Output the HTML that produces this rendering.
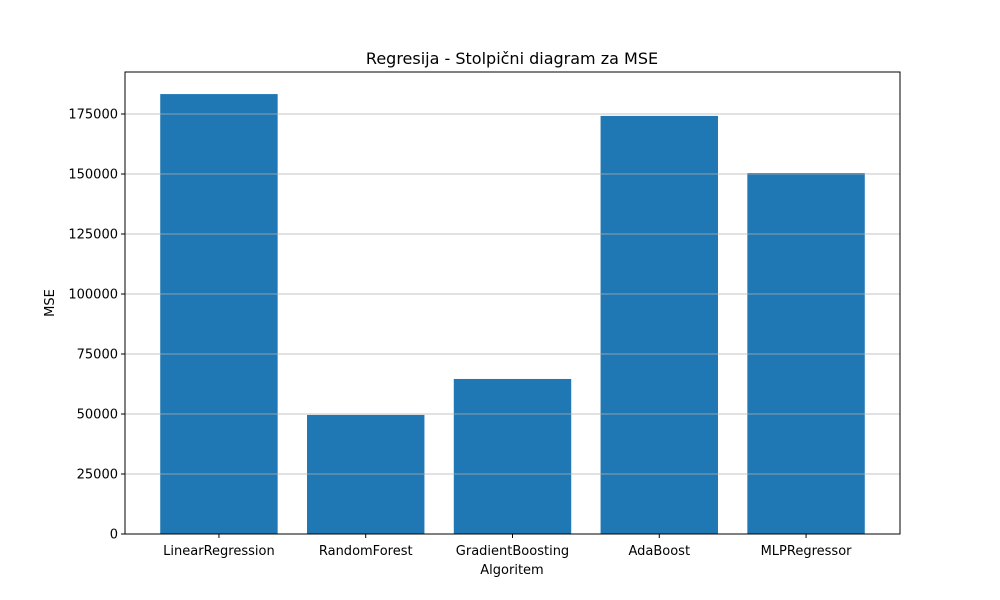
<!DOCTYPE html>
<html><head><meta charset="utf-8"><style>
body{margin:0;background:#fff;}
svg{display:block;font-family:"DejaVu Sans","Liberation Sans",sans-serif;}
</style></head><body>
<svg id="chart" width="1000" height="600">
<rect width="1000" height="600" fill="#fff"/>
<text x="512" y="64" text-anchor="middle" font-size="16" fill="#000">Regresija - Stolpični diagram za MSE</text>
<text x="512" y="574" text-anchor="middle" font-size="13">Algoritem</text>
<text transform="translate(54,303) rotate(-90)" text-anchor="middle" font-size="13">MSE</text>
<g id="bars"></g><g id="grid"></g><g id="yticks"></g><g id="xticks"></g>
<rect x="125" y="72" width="775" height="462" fill="none" stroke="#000" stroke-width="1"/>
</svg>
<script>
const categories=["LinearRegression","RandomForest","GradientBoosting","AdaBoost","MLPRegressor"];
const mseValues=[183300,49600,64600,174200,150400];
const yTickValues=[0,25000,50000,75000,100000,125000,150000,175000];
const L=125,R=900,T=72,B=534,yMax=192500;
const xMin=-0.64,xMax=4.64;
const sx=v=>L+(v-xMin)/(xMax-xMin)*(R-L);
const sy=v=>B-v/yMax*(B-T);
const NS="http://www.w3.org/2000/svg";
function mk(t,a,p){const e=document.createElementNS(NS,t);for(const k in a)e.setAttribute(k,a[k]);p.appendChild(e);return e;}
const gb=document.getElementById('bars'),gg=document.getElementById('grid'),gy=document.getElementById('yticks'),gx=document.getElementById('xticks');
categories.forEach((c,i)=>{
 const x0=sx(i-0.4),x1=sx(i+0.4);
 const r=mk('rect',{x:x0,y:sy(mseValues[i]),width:x1-x0,height:B-sy(mseValues[i]),fill:'#1f77b4'},gb);
 
 
 mk('line',{x1:sx(i),x2:sx(i),y1:B,y2:B+4,stroke:'#000'},gx);
 const t=mk('text',{x:sx(i),y:B+21,'text-anchor':'middle','font-size':13},gx);
 t.textContent=c;
 
 
});
yTickValues.forEach(v=>{
 const y=sy(v);
 const g=mk('line',{x1:L,x2:R,y1:y,y2:y,stroke:'#b0b0b0','stroke-width':0.8},gg);
 
 
 mk('line',{x1:L-4,x2:L,y1:y,y2:y,stroke:'#000'},gy);
 const t=mk('text',{x:L-7,y:y+4.5,'text-anchor':'end','font-size':13},gy);
 t.textContent=v;
 
 
});
</script>
</body></html>
